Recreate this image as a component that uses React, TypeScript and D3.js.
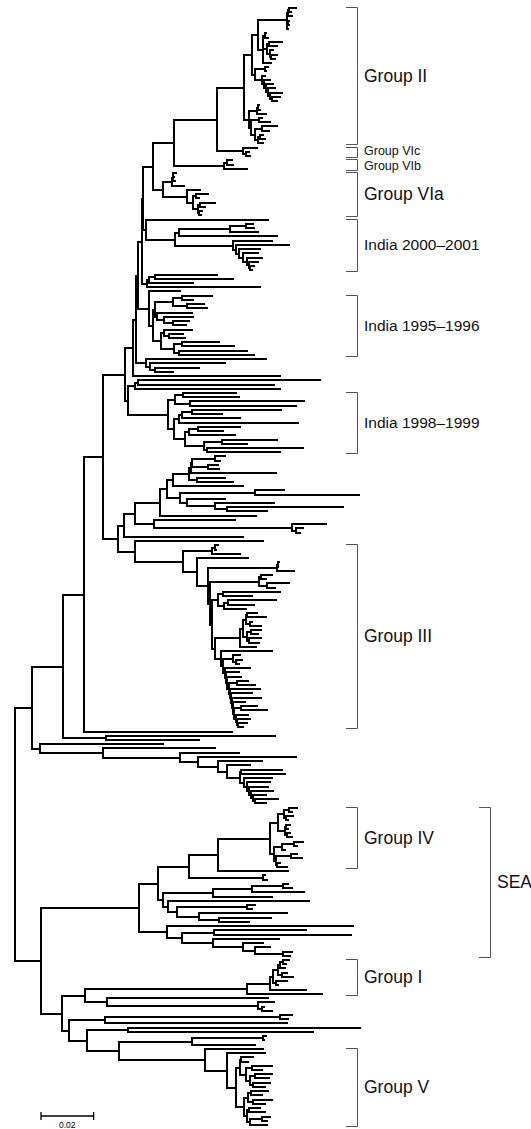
import React, { useEffect, useMemo } from 'react';
import * as d3 from 'd3';

// Tree data in Newick form. The number after ":" is the node's depth from the
// root, in 0.001 substitutions/site.

const groupII = "((((((:106.8,:104.9):104.0,:105.3):103.8,((:104.0,:104.2):103.7,:103.9):103.6):103.4,((:95.4,:96.2):95.0,((:101.5,:99.6):96.5,(:98.1,(:99.6,:98.9):97.3):96.8):95.8,:97.3):94.3):92.4,((:96.2,:95.4):95.1,(:95.1,(:97.0,(:98.1,(:98.9,(:101.5,(:100.8,:99.6):97.7):97.0):96.2):95.4):94.7):93.9):91.3):90.1,(((:92.8,:93.2):92.4,:95.4):92.0,((:93.9,:97.0):92.6,((:99.6,:96.5):93.9,((:94.3,:95.1):93.2,:94.3):92.4):91.3):89.8):89.0)GII:87.1";
const groupVIc = "(:92.0,(:89.0,:89.4):87.8)VIc:86.7";
const groupVIb = "((:82.5,:82.9):80.6,:88.2)VIb:79.5";
const groupVIa = "((((:61.2,:60.5):60.1,:60.8):59.9,:64.3):59.7,(:70.3,((:73.4,:70.0):68.8,((:76.0,:72.2):70.5,(:71.0,:70.7):70.1):69.6):67.7):65.4)VIa:56.3";
const india2000 = "(:96.2,((((:90.5,:91.0):88.0,:92.4):81.7,:99.6):62.5,(:97.7,(:104.2,(:93.2,(:92.4,(:93.9,(:92.4,(:90.9,:90.0):89.5):89.0):88.2):86.7):85.2):84.0):82.9):60.8)I00:49.8";
const smallClade = "(((:76.8,:82.9):53.2,:67.7):51.0,:93.2):50.2";
const india1995 = "(:62.7,((((:74.9,:67.7):63.5,(:71.9,:73.0):65.5):60.0,(:67.3,(:67.7,(:66.2,:65.0):60.0):56.5):54.0):53.2,((:67.3,(:63.9,:64.6):58.6):56.5,((:77.6,:83.3):63.5,(:88.2,:90.9):62.5):60.6):55.4)I95:52.5):51.0";
const india1995Tail = "(:95.4,(:79.8,(:70.0,:60.1):53.2):51.3):49.8";
const tripleClade = "((:116.0,:98.5):46.8,:100.8):45.6";
const india1998 = "(((:84.0,:85.2):63.9,(:109.9,:106.8):66.5):61.0,((((:101.1,:78.7):67.3,:85.6):63.5,:107.6):62.5,(((:85.6,:79.1):69.6,:83.7):66.0,((:99.6,:88.2):78.7,(:109.5,:100.8):73.0):71.9):64.5):60.5)I98:58.2";

const midA = "((:79.8,:77.9):76.0,(:77.2,:77.6):73.4):67.3";
const midB = "((:102.3,:130.8):91.3,(:79.8,(:98.5,(:124.7,:95.8):80.6):76.0):65.4):62.7";
const midC = "(:83.7,(:118.3,(:109.5,:108.4):107.0):105.3):52.9";

const g3a = "((:77.2,:76.4):76.0,:85.6):74.9";
const g3b = "((:100.4,:100.0):99.9,:106.1):99.6";
const g3c = "((:97.7,:95.4):93.5,(:104.2,:99.0):96.0):92.8";
const g3d = "((:100.8,:90.1):78.9,((:99.2,:90.9):81.0,:87.8):79.6):77.2";
const g3e = "((((:92.0,:95.4):88.4,(:90.1,:93.5):89.5):88.0,((:93.5,:92.4):89.6,(:93.5,:92.8):88.9):88.4):86.6,:91.6):85.6";
const g3f = "(:85.6,(:86.4,:85.2):84.0):83.0";
const g3comb = "(:85.2,(:85.9,((:88.6,:91.3):84.5,(:93.2,(:90.1,(:93.5,(:87.5,((:92.0,:95.8):86.0,(:88.6,(:89.4,(:88.2,:86.7):84.8):84.4):84.0):83.3):82.9):82.5):82.1):81.7):81.3):80.6):80.2";

const lowerComb = "(:93.9,(:89.4,((:101.5,:102.7):86.0,(:97.7,(:97.0,(:96.2,(:98.1,(:95.4,(:100.0,:95.4):91.2):90.5):89.8):89.0):88.2):87.1):85.6):80.6):77.2";

const groupIV = "((((:107.2,:105.3):104.0,(:105.7,:103.8):103.0):102.3,((:104.6,:103.8):103.0,(:104.6,:105.3):103.4):102.7):100.0,(((:109.5,:107.2):106.0,:102.7):101.5,((:107.2,:109.1):105.0,(:100.8,:103.4):99.5):99.2):98.5)GIV:97.0";
const seaA = "(((:103.8,:105.3):101.9,:110.0):90.0,:97.7):75.3";
const seaB = "((:91.3,:90.1):88.2,(:103.4,(:97.3,:89.0):77.6):70.0):61.6";
const seaC = "(:128.5,((:110.6,:127.8):75.7,(:100.4,(:94.3,(:97.0,(:105.3,:104.6):101.9):91.3):86.7):75.3):63.5):57.8";
const groupI = "((((((:104.0,:103.0):101.9,:102.7):100.8,(:103.4,:105.7):101.5):100.0,(:103.4,:100.0):99.2):98.0,:110.6):97.0,:116.7)GI:88.2";
const afterI = "(:96.2,(:98.5,(:94.8,:97.7):94.0):92.4):35.0";
const beforeV = "((:105.3,:103.8):100.8,:103.4):34.2";
const groupV = "(:94.3,(:95.1,(((:90.5,:88.6):86.0,((:97.7,:93.9):90.0,((:97.7,:96.6):91.3,(:97.0,:95.1):90.5):89.4):87.8):85.6,(((:96.2,:93.9):89.8,(:97.7,:95.1):90.5):88.6,((:93.2,:95.1):89.0,((:97.0,:96.0):93.9,:95.8):89.4):88.2):87.1):84.0):80.6)GV:72.2";

// backbone
const n217 = `(${groupII},${groupVIc}):76.8`;
const n174 = `(${n217},${groupVIb}):60.5`;
const n153 = `(${n174},${groupVIa}):52.5`;
const n143 = `(${n153},${india2000}):48.7`;
const n142 = `(${n143},${smallClade}):48.3`;
const n138 = `(${n142},${india1995}):46.8`;
const n136 = `(${n138},${india1995Tail}):46.0`;
const n133 = `(${n136},:100.8):44.9`;
const n125 = `(${n133},(${tripleClade},${india1998}):43.0):41.8`;
const n188 = `((${midA},:99.2):67.0,(:79.8,:82.9):69.2):66.2`;
const n160 = `(((${n188},:86.7):60.1,${midB}):57.8,:91.6):55.1`;
const n124 = `((${n160},${midC}):45.6,:86.7):41.4`;
const g3core = `(${g3d},(${g3e},(:97.7,(${g3f},(:89.4,${g3comb}):80.0):79.0):78.5):76.0):75.0`;
const groupIII = `(${g3a},(:88.6,(${g3b},(${g3c},${g3core}):74.0):73.4):69.2)GIII:63.9`;
const n118 = `(${n124},(:94.3,${groupIII}):45.6):39.2`;
const cladeA1 = `(((${n125},${n118}):33.5,:82.5):26.2,(:98.9,:70.0):34.6):18.3`;
const cladeA2 = `(:56.3,(:76.0,(:85.2,(:106.8,${lowerComb}):69.6):62.7):33.5):9.5`;
const cladeA = `(${cladeA1},${cladeA2}):6.5`;
const groupSEA = `((((${groupIV},:103.8):77.2,(:95.1,:95.8):94.3):66.2,(${seaA},(:111.8,${seaB}):58.2):56.3):54.4,${seaC})SEA:47.1`;
const cladeB2 = `((${groupI},${afterI}):26.6,(${beforeV},((:131.2,:113.3):43.0,(((:95.4,:94.8):94.3,:91.3):67.3,${groupV}):39.5):27.4):20.5):17.9`;
const cladeB = `(${groupSEA},${cladeB2}):9.9`;
const treeNewick = `(${cladeA},${cladeB}):0;`;

// bracket labels
const cladeIds = ['GII', 'VIc', 'VIb', 'VIa', 'I00', 'I95', 'I98', 'GIII', 'GIV', 'GI', 'GV', 'SEA'];
const cladeLabels = ['Group II', 'Group VIc', 'Group VIb', 'Group VIa', 'India 2000–2001', 'India 1995–1996', 'India 1998–1999', 'Group III', 'Group IV', 'Group I', 'Group V', 'SEA'];
const smallLabels = ['I00', 'I95', 'I98'];
const tinyLabels = ['VIc', 'VIb'];

type TNode = { name: string; depth: number; children: TNode[] };

function parseNewick(s: string): TNode {
  let i = 0;
  const read = (): TNode => {
    const n: TNode = { name: '', depth: 0, children: [] };
    if (s[i] === '(') {
      i++;
      n.children.push(read());
      while (s[i] === ',') { i++; n.children.push(read()); }
      i++;
    }
    let label = '';
    while (i < s.length && !',():;'.includes(s[i])) label += s[i++];
    n.name = label;
    if (s[i] === ':') {
      i++;
      let num = '';
      while (i < s.length && !',();'.includes(s[i])) num += s[i++];
      n.depth = +num;
    }
    return n;
  };
  return read();
}

const FONT = '"Liberation Sans", Arial, Helvetica, sans-serif';

export default function App() {
  const width = 531, height = 1129;

  useEffect(() => {
    document.body.style.margin = '0';
  }, []);

  const { edges, brackets } = useMemo(() => {
    const root = d3.hierarchy<TNode>(parseNewick(treeNewick), d => (d.children.length ? d.children : undefined));
    const leaves = root.leaves();
    const x = d3.scaleLinear().domain([0, 0.02]).range([15, 67.6]);
    const y = d3.scaleLinear().domain([0, leaves.length - 1]).range([8, 1125]);
    const ypos = new Map<any, number>();
    leaves.forEach((l, i) => ypos.set(l, Math.round(y(i))));
    root.eachAfter(n => {
      if (n.children) {
        const c = n.children;
        ypos.set(n, Math.round((ypos.get(c[0])! + ypos.get(c[c.length - 1])!) / 2));
      }
    });
    const px = (n: d3.HierarchyNode<TNode>) => Math.round(x(n.data.depth / 1000));

    let d = '';
    root.each(n => {
      if (n.children) {
        const c = n.children;
        d += `M${px(n)},${ypos.get(c[0])}V${ypos.get(c[c.length - 1])}`;
      }
      if (n.parent) d += `M${px(n.parent)},${ypos.get(n)}H${px(n)}`;
    });

    const br = cladeIds.map((id, k) => {
      const node = root.find(n => n.data.name === id)!;
      const ys = node.leaves().map(l => ypos.get(l)!);
      const tiny = tinyLabels.includes(id);
      return {
        id,
        label: cladeLabels[k],
        size: tiny ? 12.5 : smallLabels.includes(id) ? 15.5 : 17.5,
        // the two tiny labels sit on adjacent brackets; spread them a little
        nudge: id === 'VIc' ? -1.5 : id === 'VIb' ? 1.5 : 0,
        y0: d3.min(ys)! - 1,
        y1: d3.max(ys)! + 1,
      };
    });
    return { edges: d, brackets: br };
  }, []);

  const scaleBar = d3.scaleLinear().domain([0, 0.02]).range([41, 93.6]);

  return (
    <svg width={width} height={height} style={{ display: 'block', background: '#fff' }}>
      <path d={edges} fill="none" stroke="#000" strokeWidth={2} strokeLinecap="square" shapeRendering="crispEdges" />
      {brackets.map(b => {
        const bx = b.id === 'SEA' ? 490 : 357;
        return (
          <g key={b.id}>
            <path
              d={`M${bx - 11},${b.y0 + 0.5}H${bx + 0.5}V${b.y1 + 0.5}H${bx - 11}`}
              fill="none"
              stroke="#555"
              strokeWidth={1}
            />
            <text
              x={bx + 7}
              y={(b.y0 + b.y1) / 2 + b.nudge}
              dy="0.35em"
              fontFamily={FONT}
              fontSize={b.size}
              fill="#111"
            >
              {b.label}
            </text>
          </g>
        );
      })}
      <g stroke="#000" strokeWidth={1.3}>
        <line x1={scaleBar(0)} x2={scaleBar(0.02)} y1={1116} y2={1116} />
        <line x1={scaleBar(0)} x2={scaleBar(0)} y1={1112} y2={1120} />
        <line x1={scaleBar(0.02)} x2={scaleBar(0.02)} y1={1112} y2={1120} />
      </g>
      <text x={(scaleBar(0) + scaleBar(0.02)) / 2} y={1128} textAnchor="middle" fontFamily={FONT} fontSize={8.5}>
        0.02
      </text>
    </svg>
  );
}
